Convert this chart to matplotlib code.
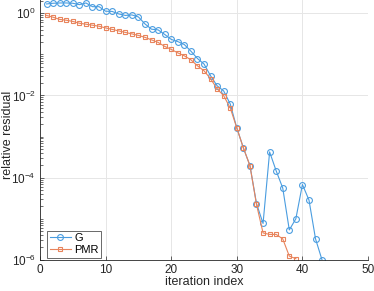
import numpy as np
import matplotlib
matplotlib.use("Agg")
import matplotlib.pyplot as plt
from matplotlib.ticker import LogLocator, NullFormatter

plt.rcParams['font.family'] = ['Liberation Sans', 'DejaVu Sans']
plt.rcParams['mathtext.default'] = 'regular'

# log10 of relative residual
it_g = np.arange(1, 44)
log_g = [0.226, 0.243, 0.25, 0.25, 0.243, 0.209, 0.25, 0.16, 0.16, 0.049,
         0.044, -0.017, -0.053, -0.041, -0.09, -0.26, -0.388, -0.405, -0.515, -0.636,
         -0.689, -0.762, -0.922, -1.102, -1.235, -1.522, -1.765, -1.891, -2.209, -2.791,
         -3.277, -3.706, -4.629, -5.114, -3.374, -3.835, -4.252, -5.272, -5.0, -4.167,
         -4.544, -5.49, -6.007]

it_p = np.arange(1, 40)
log_p = [-0.053, -0.097, -0.15, -0.17, -0.199, -0.243, -0.267, -0.291, -0.316, -0.357,
         -0.393, -0.43, -0.466, -0.502, -0.539, -0.587, -0.648, -0.709, -0.806, -0.879,
         -0.964, -1.036, -1.133, -1.279, -1.4, -1.595, -1.837, -2.007, -2.306, -2.791,
         -3.277, -3.706, -4.653, -5.345, -5.381, -5.381, -5.49, -5.908, -5.971]

res_g = 10.0 ** np.array(log_g)
res_p = 10.0 ** np.array(log_p)

blue = '#4a9de0'
orange = '#e8845c'

fig = plt.figure(figsize=(3.74, 2.91), dpi=100)
ax = fig.add_axes([0.107, 0.107, 0.877, 0.893])

ax.semilogy(it_g, res_g, '-o', color=blue, lw=0.8, ms=4.2, mfc='none', mew=0.8, label='G')
ax.semilogy(it_p, res_p, '-s', color=orange, lw=0.8, ms=3.0, mfc='none', mew=0.8, label='PMR')

ax.set_xlim(0, 50)
ax.set_ylim(1e-6, 2.1)
ax.set_xticks([0, 10, 20, 30, 40, 50])
ax.yaxis.set_major_locator(LogLocator(base=100))
ax.yaxis.set_minor_locator(LogLocator(base=10, subs=np.arange(1, 10), numticks=20))
ax.yaxis.set_minor_formatter(NullFormatter())

ax.grid(True, which='major', color='#e6e6e6', lw=0.7)
ax.set_axisbelow(True)
for s in ['top', 'right']:
    ax.spines[s].set_visible(False)
for s in ['left', 'bottom']:
    ax.spines[s].set_color('#262626')
    ax.spines[s].set_linewidth(0.6)
ax.tick_params(direction='in', labelsize=8.5, colors='#262626', length=3, width=0.5, pad=3)
ax.tick_params(which='minor', direction='in', length=1.8, width=0.4)

ax.set_xlabel('iteration index', fontsize=9, color='#262626', labelpad=0)
ax.set_ylabel('relative residual', fontsize=9, color='#262626')
ax.yaxis.set_label_coords(-0.079, 0.48)

leg = ax.legend(loc='lower left', bbox_to_anchor=(0.021, 0.008), fontsize=8,
                frameon=True, fancybox=False, edgecolor='#262626', borderpad=0.25,
                handlelength=1.9, handletextpad=0.3, labelspacing=0.15, borderaxespad=0)
leg.get_frame().set_linewidth(0.6)

fig.savefig('out.png', dpi=100)
